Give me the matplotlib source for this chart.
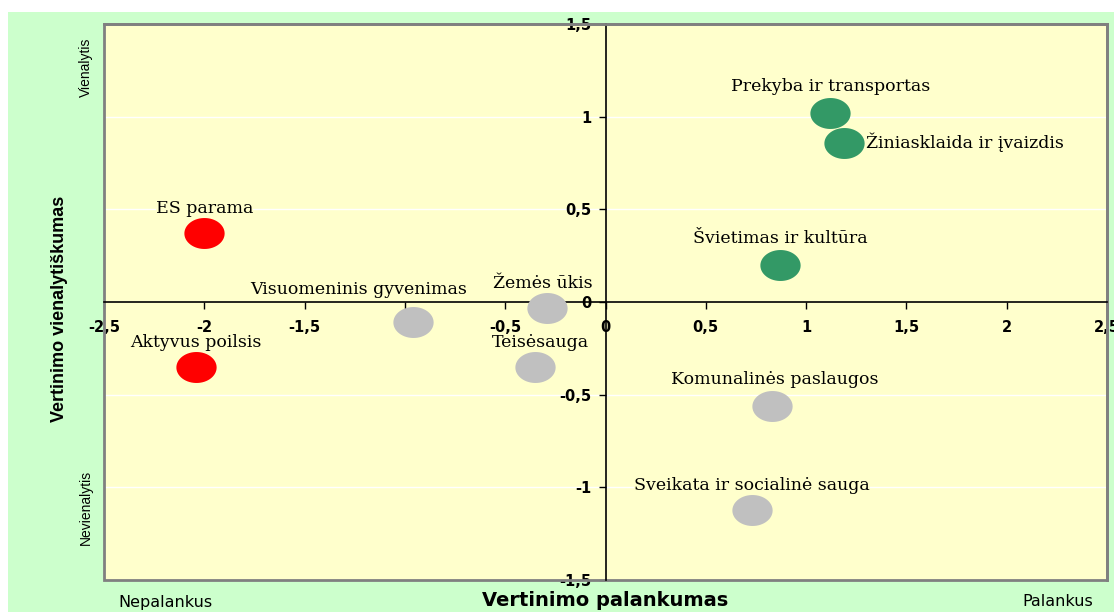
import numpy as np
import matplotlib
matplotlib.use("Agg")
import matplotlib.pyplot as plt
from matplotlib.patches import Rectangle
from matplotlib.path import Path
from matplotlib.ticker import FuncFormatter

# sritys: vertinimo palankumas (x) ir vienalytiškumas (y)
sritys = ["Prekyba ir transportas", "Žiniasklaida ir įvaizdis", "Švietimas ir kultūra",
          "ES parama", "Aktyvus poilsis", "Visuomeninis gyvenimas", "Žemės ūkis",
          "Teisėsauga", "Komunalinės paslaugos", "Sveikata ir socialinė sauga"]
palankumas = [1.12, 1.19, 0.87, -2.00, -2.04, -0.96, -0.29, -0.35, 0.83, 0.73]
vienalytiskumas = [1.02, 0.86, 0.20, 0.37, -0.35, -0.11, -0.03, -0.35, -0.56, -1.12]
grupe = ["g", "g", "g", "r", "r", "p", "p", "p", "p", "p"]

spalvos = {"g": "#339966", "r": "#FF0000", "p": "#C0C0C0"}
# label offsets in points (dx, dy) and alignment
poslinkiai = [(0, 19, "center"), (16, 0, "left"), (0, 19, "center"), (0, 18, "center"),
              (0, 17.5, "center"), (-39, 24, "center"), (-3, 17, "center"), (4, 17.5, "center"),
              (2, 19, "center"), (0, 17, "center")]

fig = plt.figure(figsize=(11.14, 6.12), dpi=100, facecolor="white")
fig.patches.append(Rectangle((8 / 1114, 0), 1 - 8 / 1114, 1 - 12 / 612,
                             transform=fig.transFigure, facecolor="#CCFFCC",
                             edgecolor="none", zorder=-10))

ax = fig.add_axes([104 / 1114, 1 - 580 / 612, 1003 / 1114, 556 / 612])
ax.set_facecolor("#FFFFCC")
ax.set_xlim(-2.5, 2.5)
ax.set_ylim(-1.5, 1.5)

# white horizontal grid
for yv in [-1, -0.5, 0.5, 1]:
    ax.axhline(yv, color="white", lw=1, zorder=1)

# elliptical marker
t = np.linspace(0, 2 * np.pi, 60)
elipse = Path(np.column_stack([1.3 * np.cos(t), np.sin(t)]), closed=True)

for x, y, g, name, (dx, dy, ha) in zip(palankumas, vienalytiskumas, grupe, sritys, poslinkiai):
    ax.plot(x, y, marker=elipse, ms=29, color=spalvos[g], mec="none", zorder=5, clip_on=False)
    ax.annotate(name, (x, y), xytext=(dx, dy), textcoords="offset points",
                ha=ha, va="center", fontsize=12.5, family="DejaVu Serif", zorder=4,
                bbox=dict(boxstyle="square,pad=0", fc="#FFFFCC", ec="none"))

# axes through the origin
ax.spines["left"].set_position("zero")
ax.spines["bottom"].set_position("zero")
for s in ["left", "bottom"]:
    ax.spines[s].set_color("black")
    ax.spines[s].set_linewidth(1.2)
for s in ["top", "right"]:
    ax.spines[s].set_color("#808080")
    ax.spines[s].set_linewidth(2)
ax.add_patch(Rectangle((0, 0), 1, 1, transform=ax.transAxes, fill=False,
                       edgecolor="#808080", lw=2, clip_on=False, zorder=2))

fmt = FuncFormatter(lambda v, p: ("%g" % v).replace(".", ","))
ax.set_xticks(np.arange(-2.5, 2.51, 0.5))
ax.set_yticks(np.arange(-1.5, 1.51, 0.5))
ax.xaxis.set_major_formatter(fmt)
ax.yaxis.set_major_formatter(fmt)
ax.tick_params(axis="both", direction="out", length=5, width=1, color="black")
ax.tick_params(axis="x", pad=8)
ax.tick_params(axis="y", pad=5)
for lab in ax.get_xticklabels() + ax.get_yticklabels():
    lab.set_fontweight("bold")
    lab.set_fontsize(10.5)
    lab.set_family("DejaVu Sans")

fig.text(605 / 1114, 1 - 600 / 612, "Vertinimo palankumas", ha="center", va="center",
         fontsize=14, fontweight="bold", family="DejaVu Sans")
fig.text(60 / 1114, 1 - 309 / 612, "Vertinimo vienalytiškumas", ha="center", va="center",
         rotation=90, fontsize=13, fontweight="bold", family="Liberation Sans")
fig.text(86 / 1114, 1 - 67 / 612, "Vienalytis", ha="center", va="center",
         rotation=90, fontsize=10, family="Liberation Sans")
fig.text(86 / 1114, 1 - 507 / 612, "Nevienalytis", ha="center", va="center",
         rotation=90, fontsize=10, family="Liberation Sans")
fig.text(165 / 1114, 1 - 602 / 612, "Nepalankus", ha="center", va="center",
         fontsize=11.5, family="DejaVu Sans")
fig.text(1058 / 1114, 1 - 602 / 612, "Palankus", ha="center", va="center",
         fontsize=11.5, family="DejaVu Sans")

fig.savefig("out.png", dpi=100, facecolor=fig.get_facecolor())
